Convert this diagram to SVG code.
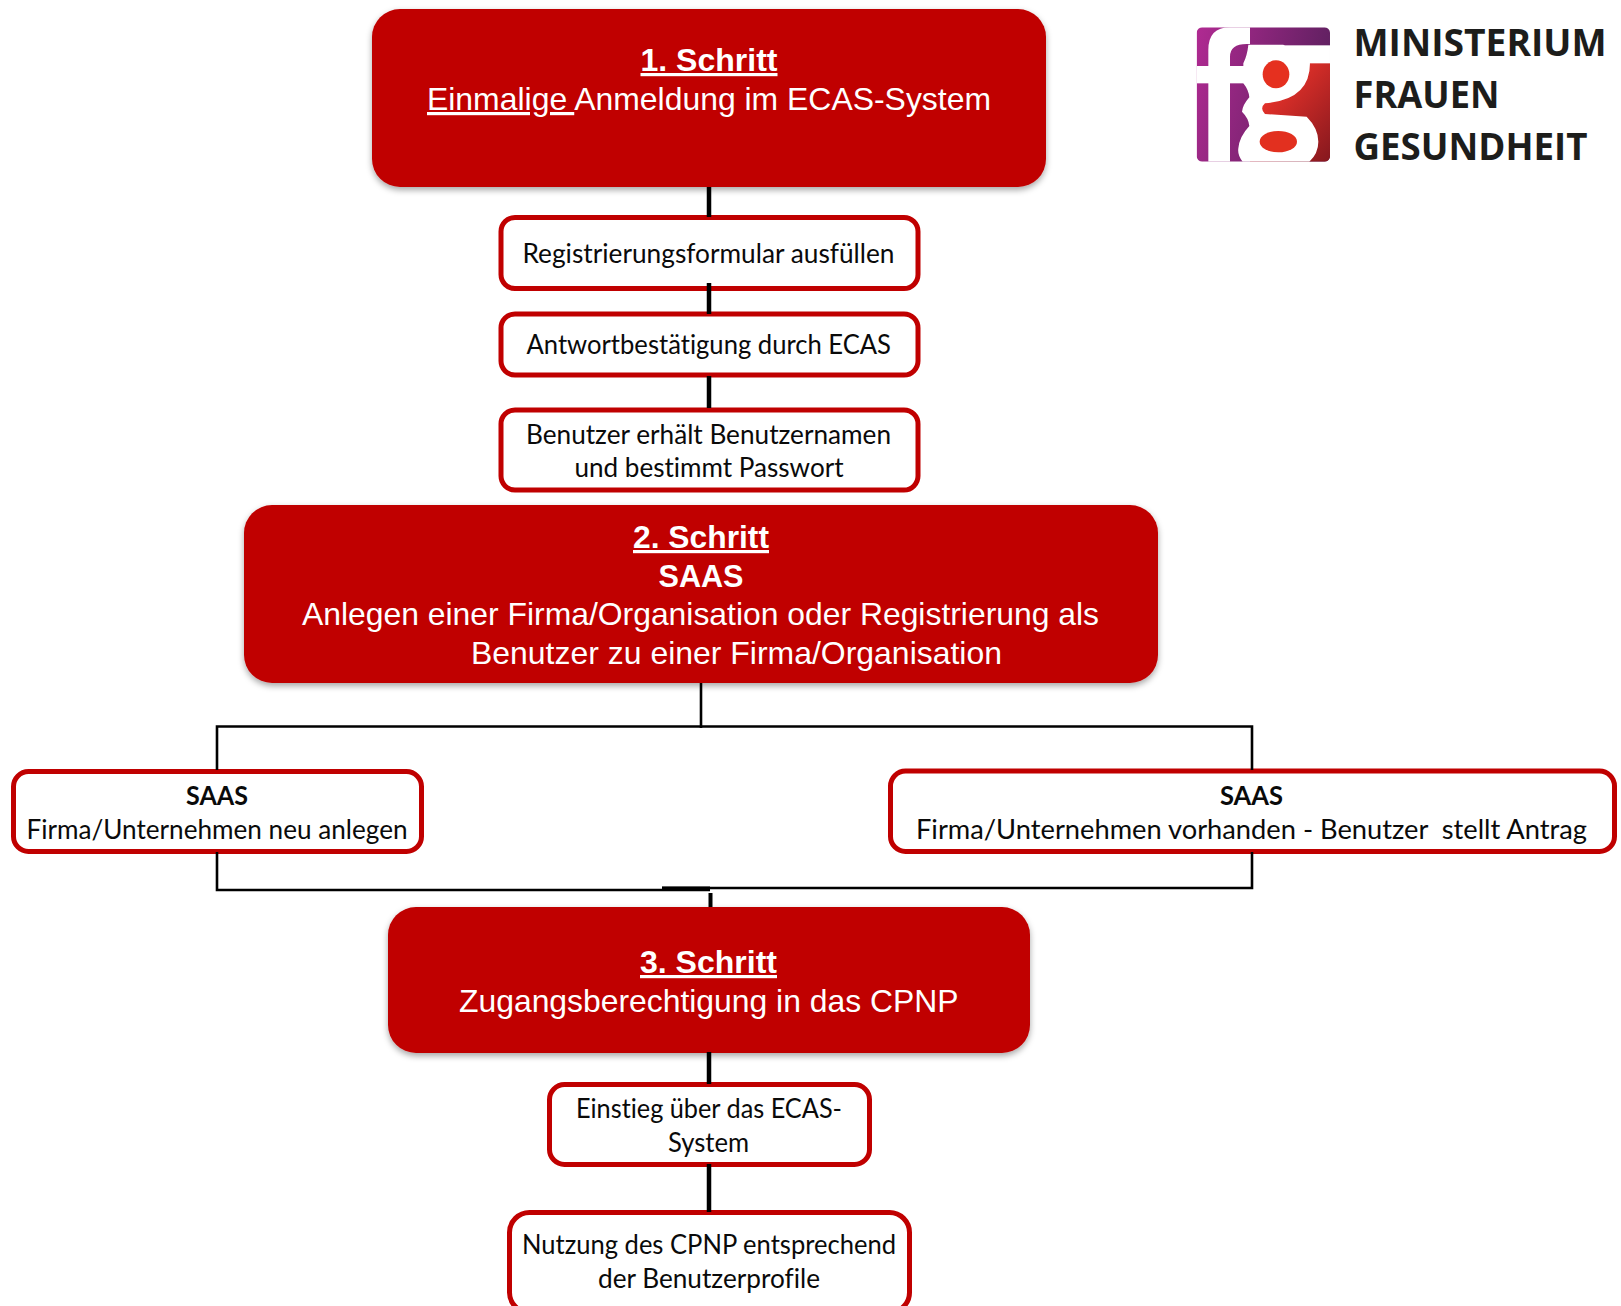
<svg xmlns="http://www.w3.org/2000/svg" width="1621" height="1306" viewBox="0 0 1621 1306">
<style>
text{text-anchor:start;font-variant-ligatures:none}
.m{font-family:"Liberation Sans",Arial,sans-serif;font-size:32px;fill:#fff}
.b{font-weight:700}
.s{font-family:Lato,"Liberation Sans",sans-serif;font-size:26px;fill:#0a0a0a}
.l{font-family:"Open Sans","Liberation Sans",sans-serif;font-size:37px;font-weight:700;fill:#1d1d1b}
.main{fill:#c00000;filter:url(#sh)}
.box{fill:#fff;stroke:#c00000;stroke-width:5}
.c{fill:none;stroke:#000;stroke-width:4.500}
.t{fill:none;stroke:#000;stroke-width:2.600}
.k{fill:none;stroke:#000;stroke-width:4}
</style>
<defs>
<filter id="sh" x="-5%" y="-10%" width="110%" height="125%"><feDropShadow dx="0" dy="3" stdDeviation="3" flood-color="#000" flood-opacity="0.35"/></filter>
<linearGradient id="pu" x1="0" y1="0" x2="1" y2="0.25"><stop offset="0" stop-color="#b02a92"/><stop offset="1" stop-color="#5f2060"/></linearGradient>
<linearGradient id="re" gradientUnits="userSpaceOnUse" x1="330" y1="300" x2="540" y2="480"><stop offset="0" stop-color="#e8322a"/><stop offset="1" stop-color="#86181e"/></linearGradient>
<clipPath id="lc"><rect x="140" y="82" width="400" height="403" rx="16"/></clipPath>
</defs>

<g id="node-schritt1">
<rect class="main" x="372" y="9" width="674" height="178" rx="28"/>
<text class="m b" x="640.500" y="71" textLength="137" lengthAdjust="spacingAndGlyphs" text-decoration="underline">1. Schritt</text>
<text class="m" x="427" y="110" textLength="564" lengthAdjust="spacingAndGlyphs" xml:space="preserve"><tspan text-decoration="underline">Einmalige </tspan>Anmeldung im ECAS-System</text>
</g>
<g id="node-registrierung">
<rect class="box" x="501" y="217.500" width="417" height="71" rx="14"/>
<text class="s" x="522.500" y="262.500" textLength="372" lengthAdjust="spacingAndGlyphs">Registrierungsformular ausfüllen</text>
</g>
<g id="node-antwort">
<rect class="box" x="501" y="314" width="417" height="61" rx="14"/>
<text class="s" x="526.500" y="353.500" textLength="364.500" lengthAdjust="spacingAndGlyphs">Antwortbestätigung durch ECAS</text>
</g>
<g id="node-benutzer">
<rect class="box" x="501" y="410" width="417" height="80" rx="14"/>
<text class="s" x="526" y="443.500" textLength="365" lengthAdjust="spacingAndGlyphs">Benutzer erhält Benutzernamen</text>
<text class="s" x="574.500" y="476.500" textLength="269" lengthAdjust="spacingAndGlyphs">und bestimmt Passwort</text>
</g>
<g id="node-schritt2">
<rect class="main" x="244" y="505" width="914" height="178" rx="28"/>
<text class="m b" x="633" y="548" textLength="136" lengthAdjust="spacingAndGlyphs" text-decoration="underline">2. Schritt</text>
<text class="m b" x="658.500" y="587" textLength="85" lengthAdjust="spacingAndGlyphs">SAAS</text>
<text class="m" x="302" y="624.500" textLength="797" lengthAdjust="spacingAndGlyphs">Anlegen einer Firma/Organisation oder Registrierung als</text>
<text class="m" x="471" y="664" textLength="531" lengthAdjust="spacingAndGlyphs">Benutzer zu einer Firma/Organisation</text>
</g>
<g id="node-saas-neu">
<rect class="box" x="13.500" y="771.500" width="408" height="80" rx="15"/>
<text class="s b" x="186" y="804.500" textLength="62" lengthAdjust="spacingAndGlyphs">SAAS</text>
<text class="s" x="26.500" y="838.500" textLength="381" lengthAdjust="spacingAndGlyphs">Firma/Unternehmen neu anlegen</text>
</g>
<g id="node-saas-vorhanden">
<rect class="box" x="890.500" y="771" width="724" height="80.500" rx="15"/>
<text class="s b" x="1220" y="804.500" textLength="63" lengthAdjust="spacingAndGlyphs">SAAS</text>
<text class="s" x="916" y="839" textLength="671" lengthAdjust="spacingAndGlyphs" xml:space="preserve">Firma/Unternehmen vorhanden - Benutzer  stellt Antrag</text>
</g>
<g id="node-schritt3">
<rect class="main" x="388" y="907" width="642" height="146" rx="28"/>
<text class="m b" x="640" y="973" textLength="137" lengthAdjust="spacingAndGlyphs" text-decoration="underline">3. Schritt</text>
<text class="m" x="459" y="1012" textLength="499.500" lengthAdjust="spacingAndGlyphs">Zugangsberechtigung in das CPNP</text>
</g>
<g id="node-einstieg">
<rect class="box" x="549.500" y="1084.500" width="320" height="80" rx="15"/>
<text class="s" x="576" y="1117.500" textLength="266" lengthAdjust="spacingAndGlyphs">Einstieg über das ECAS-</text>
<text class="s" x="668" y="1151.500" textLength="81" lengthAdjust="spacingAndGlyphs">System</text>
</g>
<g id="node-nutzung">
<rect class="box" x="509.500" y="1212.500" width="400" height="100" rx="20"/>
<text class="s" x="522" y="1253.500" textLength="374" lengthAdjust="spacingAndGlyphs">Nutzung des CPNP entsprechend</text>
<text class="s" x="598" y="1287.500" textLength="222" lengthAdjust="spacingAndGlyphs">der Benutzerprofile</text>
</g>

<g id="connectors">
<path class="c" d="M709 187V217M709 283V314M709 376V408M709 1052V1084M709 1164V1212"/>
<path class="t" d="M701 683V728"/>
<path class="t" d="M217 770V726.500H1252V770"/>
<path class="t" d="M217 852V890H710M1252 852V888H662"/>
<path class="k" d="M662 888.500H710"/>
<path class="k" d="M710.500 893V907"/>
</g>

<g id="logo">
<g transform="translate(1150 0) scale(0.33333)">
<g clip-path="url(#lc)">
<rect x="140" y="82" width="400" height="403" fill="url(#pu)"/>
<rect x="300" y="188" width="240" height="297" fill="url(#re)"/>
<path fill="#fff" d="M175 485V150Q175 82 240 82H300V132Q240 128 240 170V485Z"/>
<rect x="140" y="198" width="160" height="52" fill="#fff"/>
<rect x="370" y="136" width="170" height="54" fill="#fff"/>
<path fill="#fff" d="M295 134H400L480 190Q480 300 345 310Q328 325 345 342L470 350Q505 385 505 425Q505 460 478 485H278Q262 465 265 445Q268 410 298 378Q296 355 276 335Q278 315 298 292Q296 270 280 250V190Q292 165 295 134Z"/>
<ellipse cx="378" cy="223" rx="40" ry="42" fill="#e5301f"/>
<ellipse cx="385" cy="425" rx="56" ry="32" fill="#e2301f"/>
</g>
</g>
<text class="l" x="1353.500" y="56" textLength="253" lengthAdjust="spacingAndGlyphs">MINISTERIUM</text>
<text class="l" x="1353.500" y="108" textLength="146" lengthAdjust="spacingAndGlyphs">FRAUEN</text>
<text class="l" x="1353.500" y="159.500" textLength="234" lengthAdjust="spacingAndGlyphs">GESUNDHEIT</text>
</g>
</svg>
